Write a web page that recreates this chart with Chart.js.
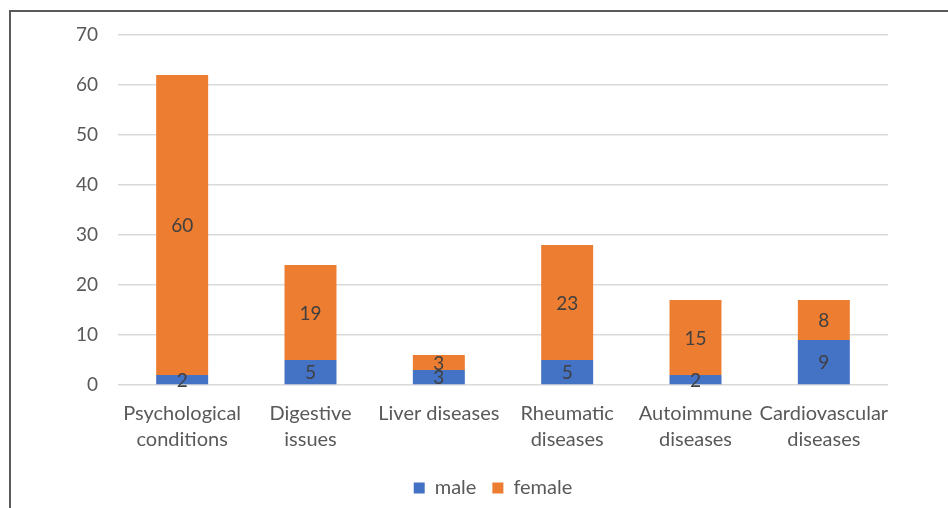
<!DOCTYPE html>
<html lang="en">
<head>
  <meta charset="UTF-8">
  <title>Conditions by sex</title>
  <script src="https://cdn.jsdelivr.net/npm/chart.js"></script>
  <style>
    body {
      margin: 0;
      background: #fff;
      overflow: hidden;
    }
    .wrap {
      position: relative;
      width: 948px;
      height: 508px;
    }
    .frame {
      position: absolute;
      left: 9px;
      top: 10px;
      width: 960px;
      height: 520px;
      border-left: 2px solid #5a5a5a;
      border-top: 2px solid #5a5a5a;
      box-sizing: border-box;
    }
    canvas {
      position: absolute;
      left: 0;
      top: 0;
    }
  </style>
</head>
<body>
  <div class="wrap">
    <div class="frame"></div>
    <canvas id="chart" width="948" height="508"></canvas>
  </div>
  <script>
    const categories = [
      ['Psychological', 'conditions'],
      ['Digestive', 'issues'],
      'Liver diseases',
      ['Rheumatic', 'diseases'],
      ['Autoimmune', 'diseases'],
      ['Cardiovascular', 'diseases']
    ];
    const male = [2, 5, 3, 5, 2, 9];
    const female = [60, 19, 3, 23, 15, 8];
    const yTicks = [0, 10, 20, 30, 40, 50, 60, 70];

    const fontFamily = "Lato, 'Open Sans', sans-serif";

    // draws the value in the middle of each bar segment
    const segmentLabels = {
      id: 'segmentLabels',
      afterDatasetsDraw(chart) {
        const ctx = chart.ctx;
        ctx.save();
        ctx.font = `19px ${fontFamily}`;
        ctx.fillStyle = '#404040';
        ctx.textAlign = 'center';
        ctx.textBaseline = 'middle';
        chart.data.datasets.forEach((ds, i) => {
          chart.getDatasetMeta(i).data.forEach((bar, j) => {
            const mid = (bar.y + bar.base) / 2;
            ctx.fillText(ds.data[j], bar.x, mid + 1);
          });
        });
        ctx.restore();
      }
    };

    // fixed legend height, and nudge it right so it sits where the original one does
    const legendTweak = {
      id: 'legendTweak',
      beforeInit(chart) {
        const legend = chart.legend;
        if (!legend) return;
        const fit = legend.fit;
        legend.fit = function () {
          fit.call(this);
          this.height = 46;
        };
        const draw = legend.draw;
        legend.draw = function () {
          const ctx = this.ctx;
          ctx.save();
          ctx.translate(49, 0);
          draw.call(this);
          ctx.restore();
        };
      }
    };

    new Chart(document.getElementById('chart'), {
      type: 'bar',
      data: {
        labels: categories,
        datasets: [
          { label: 'male', data: male, backgroundColor: '#4472c4' },
          { label: 'female', data: female, backgroundColor: '#ed7d31' }
        ]
      },
      options: {
        responsive: false,
        animation: false,
        layout: { padding: { top: 35, right: 60, left: 0, bottom: 0 } },
        datasets: {
          bar: { categoryPercentage: 1, barPercentage: 0.405 }
        },
        scales: {
          x: {
            stacked: true,
            grid: { display: false },
            border: { display: false },
            ticks: {
              color: '#595959',
              font: { family: fontFamily, size: 20, lineHeight: 1.3 },
              padding: 8,
              maxRotation: 0,
              autoSkip: false
            },
            afterFit(scale) { scale.height = 77; }
          },
          y: {
            stacked: true,
            min: 0,
            max: 70,
            afterBuildTicks(scale) {
              scale.ticks = yTicks.map(v => ({ value: v }));
            },
            grid: { color: '#d9d9d9', lineWidth: 1.5, drawTicks: false },
            border: { display: false },
            ticks: {
              color: '#595959',
              font: { family: fontFamily, size: 19 },
              padding: 20
            },
            afterFit(scale) { scale.width = 118; }
          }
        },
        plugins: {
          legend: {
            position: 'bottom',
            labels: {
              color: '#595959',
              font: { family: fontFamily, size: 20 },
              boxWidth: 11,
              boxHeight: 11,
              padding: 16
            }
          },
          tooltip: { enabled: false }
        }
      },
      plugins: [segmentLabels, legendTweak]
    });
  </script>
</body>
</html>
